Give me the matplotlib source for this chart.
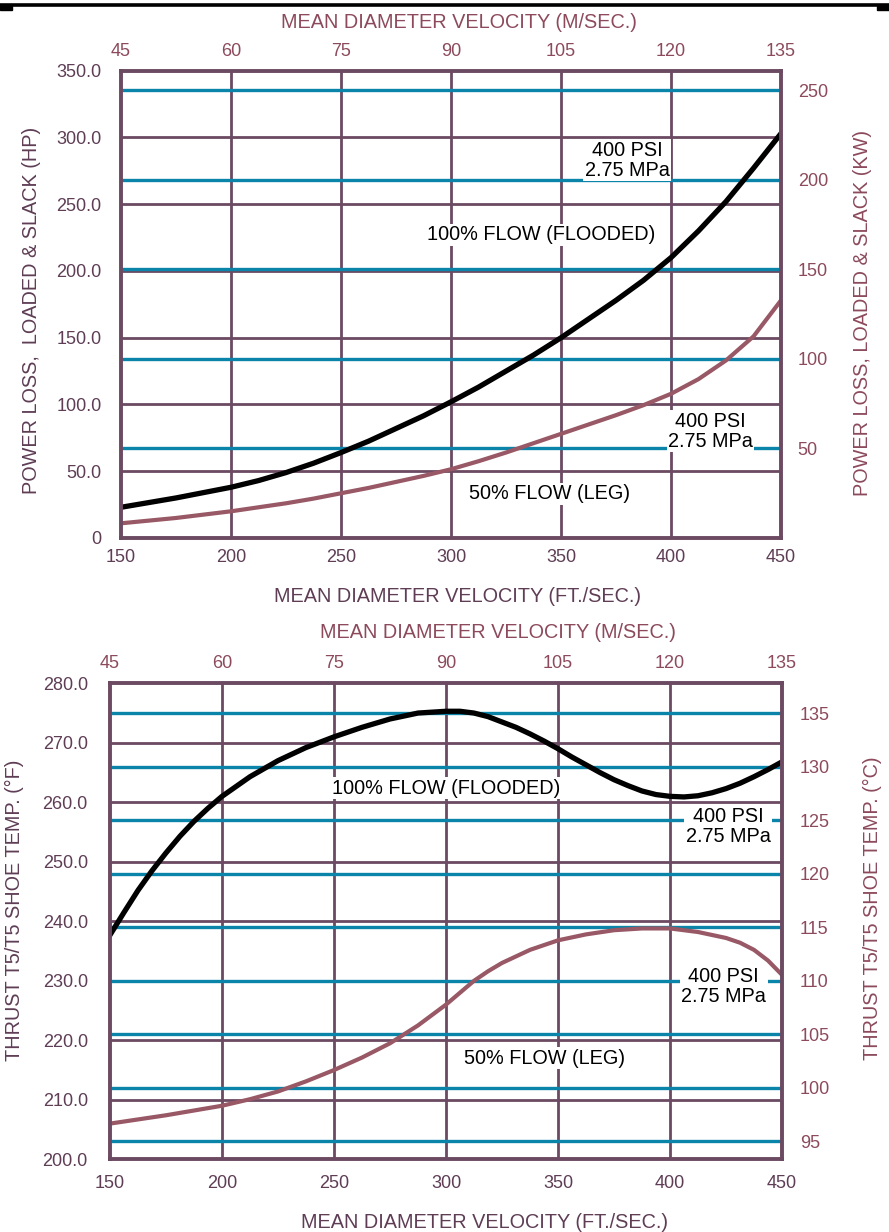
import matplotlib
matplotlib.use("Agg")
import matplotlib.pyplot as plt
from matplotlib.lines import Line2D
from matplotlib.patches import Rectangle

plt.rcParams['font.family'] = ['Liberation Sans', 'DejaVu Sans']

# ---- shared velocity scale -------------------------------------------------
grid_fts = [150, 200, 250, 300, 350, 400, 450]
ms_ticks = [45, 60, 75, 90, 105, 120, 135]

# ---- power loss panel ------------------------------------------------------
power_vel = [150, 162.5, 175, 187.5, 200, 212.5, 225, 237.5, 250, 262.5, 275, 287.5,
             300, 312.5, 325, 337.5, 350, 362.5, 375, 387.5, 400, 412.5, 425, 437.5, 450]
hp_flooded = [23, 26.5, 30, 34, 38, 43, 49, 56, 64, 72.5, 82, 91.5,
              102, 113, 125, 137, 150, 164, 178, 193, 210, 230, 252, 277, 303]
hp_leg = [11, 13, 15, 17.5, 20, 23, 26, 29.5, 33.5, 37.5, 42, 46.5,
          51.5, 57.5, 64, 71, 78, 85, 92, 99.5, 108, 119, 133, 151, 178]
hp_ticks = [0, 50, 100, 150, 200, 250, 300, 350]
hp_labels = ['0', '50.0', '100.0', '150.0', '200.0', '250.0', '300.0', '350.0']
kw_ticks = [50, 100, 150, 200, 250]

# ---- shoe temperature panel ------------------------------------------------
temp_vel_flooded = [150, 156.25, 162.5, 168.75, 175, 181.25, 187.5, 193.75, 200,
                    212.5, 225, 237.5, 250, 262.5, 275, 287.5, 300, 306.25, 312.5,
                    318.75, 325, 331.25, 337.5, 343.75, 350, 356.25, 362.5, 368.75,
                    375, 381.25, 387.5, 393.75, 400, 406.25, 412.5, 418.75, 425,
                    431.25, 437.5, 443.75, 450]
temp_flooded = [237.7, 241.5, 245.2, 248.5, 251.5, 254.3, 256.8, 259, 261,
                264.3, 267, 269.2, 271, 272.6, 274, 275, 275.3, 275.3, 275,
                274.4, 273.5, 272.6, 271.5, 270.3, 269, 267.6, 266.3, 265,
                263.8, 262.8, 261.9, 261.3, 261, 260.9, 261.1, 261.6, 262.3,
                263.2, 264.3, 265.5, 266.8]
temp_vel_leg = [150, 162.5, 175, 187.5, 200, 212.5, 225, 237.5, 250, 262.5, 275,
                287.5, 300, 306.25, 312.5, 318.75, 325, 337.5, 350, 362.5, 375,
                387.5, 400, 412.5, 425, 431.25, 437.5, 443.75, 450]
temp_leg = [206, 206.7, 207.4, 208.2, 209, 210.1, 211.4, 213.1, 215, 217.1, 219.5,
            222.5, 226, 228, 230, 231.6, 233, 235.2, 236.8, 237.8, 238.5,
            238.8, 238.8, 238.2, 237.2, 236.4, 235.2, 233.4, 231]
f_ticks = [200, 210, 220, 230, 240, 250, 260, 270, 280]
f_labels = ['200.0', '210.0', '220.0', '230.0', '240.0', '250.0', '260.0', '270.0', '280.0']
c_ticks = [95, 100, 105, 110, 115, 120, 125, 130, 135]

GRID = '#6b4a62'
DARK_TXT = '#5e3d55'
RED_TXT = '#8c4a5c'
BLUE = '#0a84a8'
MAUVE = '#985865'
TICK_FS = 13
TITLE_FS = 14.3
NOTE_FS = 14.3

W, H = 889, 1232
fig = plt.figure(figsize=(W / 100, H / 100), dpi=100)


def px_axes(left, top, right, bottom):
    return fig.add_axes([left / W, 1 - bottom / H, (right - left) / W, (bottom - top) / H])


def ms_from_fts(v):
    return v * 0.3


def fts_from_ms(v):
    return v / 0.3


def build_panel(ax, yticks, ylabels, sec_fwd, sec_inv, sec_ticks, ypad, rpad, tpad, bpad):
    ax.set_xlim(150, 450)
    ax.set_ylim(yticks[0], yticks[-1])
    ax.set_xticks(grid_fts)
    ax.set_xticklabels([str(v) for v in grid_fts])
    ax.set_yticks(yticks)
    ax.set_yticklabels(ylabels)
    ax.tick_params(axis='x', length=0, pad=bpad, labelsize=TICK_FS, labelcolor=DARK_TXT)
    ax.tick_params(axis='y', length=0, pad=ypad, labelsize=TICK_FS, labelcolor=DARK_TXT)
    for s in ax.spines.values():
        s.set_color(GRID)
        s.set_linewidth(2.8)
        s.set_zorder(6)
    for v in grid_fts[1:-1]:
        ax.axvline(v, color=GRID, lw=2.0, zorder=1)
    for h in yticks[1:-1]:
        ax.axhline(h, color=GRID, lw=2.0, zorder=1)
    for c in sec_ticks:
        ax.axhline(sec_inv(c), color=BLUE, lw=2.4, zorder=1.5)

    top = ax.secondary_xaxis('top', functions=(ms_from_fts, fts_from_ms))
    top.set_xticks(ms_ticks)
    top.set_xticklabels([str(v) for v in ms_ticks])
    top.tick_params(length=0, pad=tpad, labelsize=TICK_FS, labelcolor=RED_TXT)
    for s in top.spines.values():
        s.set_visible(False)

    right = ax.secondary_yaxis('right', functions=(sec_fwd, sec_inv))
    right.set_yticks(sec_ticks)
    right.set_yticklabels([str(v) for v in sec_ticks])
    right.tick_params(length=0, pad=rpad, labelsize=TICK_FS, labelcolor=RED_TXT)
    for s in right.spines.values():
        s.set_visible(False)


def note(ax, x, y, s):
    ax.text(x, y, s, ha='center', va='center', fontsize=NOTE_FS, color='black',
            linespacing=1.05, zorder=5,
            bbox=dict(facecolor='white', edgecolor='none', pad=1.0))


# ---- power loss ------------------------------------------------------------
ax1 = px_axes(121, 70.7, 781, 538)
build_panel(ax1, hp_ticks, hp_labels,
            lambda hp: hp * 0.7457, lambda kw: kw / 0.7457,
            kw_ticks, ypad=14, rpad=12, tpad=8, bpad=8)
ax1.plot(power_vel, hp_leg, color=MAUVE, lw=3.0, zorder=3)
ax1.plot(power_vel, hp_flooded, color='black', lw=3.8, zorder=4)
note(ax1, 380, 283, '400 PSI\n2.75 MPa')
note(ax1, 341, 227, '100% FLOW (FLOODED)')
note(ax1, 418, 80, '400 PSI\n2.75 MPa')
note(ax1, 345, 33, '50% FLOW (LEG)')

# ---- shoe temperature ------------------------------------------------------
ax2 = px_axes(110, 683.3, 782, 1159.3)
build_panel(ax2, f_ticks, f_labels,
            lambda f: (f - 32) * 5 / 9, lambda c: c * 9 / 5 + 32,
            c_ticks, ypad=16, rpad=13, tpad=8, bpad=11)
ax2.plot(temp_vel_leg, temp_leg, color=MAUVE, lw=3.0, zorder=3)
ax2.plot(temp_vel_flooded, temp_flooded, color='black', lw=3.8, zorder=4)
note(ax2, 300, 262.4, '100% FLOW (FLOODED)')
note(ax2, 426, 255.9, '400 PSI\n2.75 MPa')
note(ax2, 424, 229, '400 PSI\n2.75 MPa')
note(ax2, 344, 217, '50% FLOW (LEG)')

# ---- axis titles -----------------------------------------------------------
def ftext(x, y, s, color, rot=0):
    fig.text(x / W, 1 - y / H, s, ha='center', va='center', rotation=rot,
             fontsize=TITLE_FS, color=color)


ftext(459, 23, 'MEAN DIAMETER VELOCITY (M/SEC.)', RED_TXT)
ftext(458, 597, 'MEAN DIAMETER VELOCITY (FT./SEC.)', DARK_TXT)
ftext(32, 310, 'POWER LOSS,  LOADED & SLACK (HP)', DARK_TXT, 90)
ftext(862, 313, 'POWER LOSS, LOADED & SLACK (KW)', RED_TXT, 90)

ftext(498, 633, 'MEAN DIAMETER VELOCITY (M/SEC.)', RED_TXT)
ftext(485, 1222, 'MEAN DIAMETER VELOCITY (FT./SEC.)', DARK_TXT)
ftext(14, 910, 'THRUST T5/T5 SHOE TEMP. (°F)', DARK_TXT, 90)
ftext(872, 908, 'THRUST T5/T5 SHOE TEMP. (°C)', RED_TXT, 90)

# ---- page rule along the top edge ------------------------------------------
fig.add_artist(Line2D([0, 1], [1 - 4.5 / H, 1 - 4.5 / H], color='black', lw=2.6,
                      transform=fig.transFigure))
fig.add_artist(Rectangle((0, 1 - 10 / H), 12 / W, 4 / H, color='black',
                         transform=fig.transFigure))
fig.add_artist(Rectangle((1 - 12 / W, 1 - 10 / H), 12 / W, 4 / H, color='black',
                         transform=fig.transFigure))

fig.savefig('out.png', dpi=100, facecolor='white')
